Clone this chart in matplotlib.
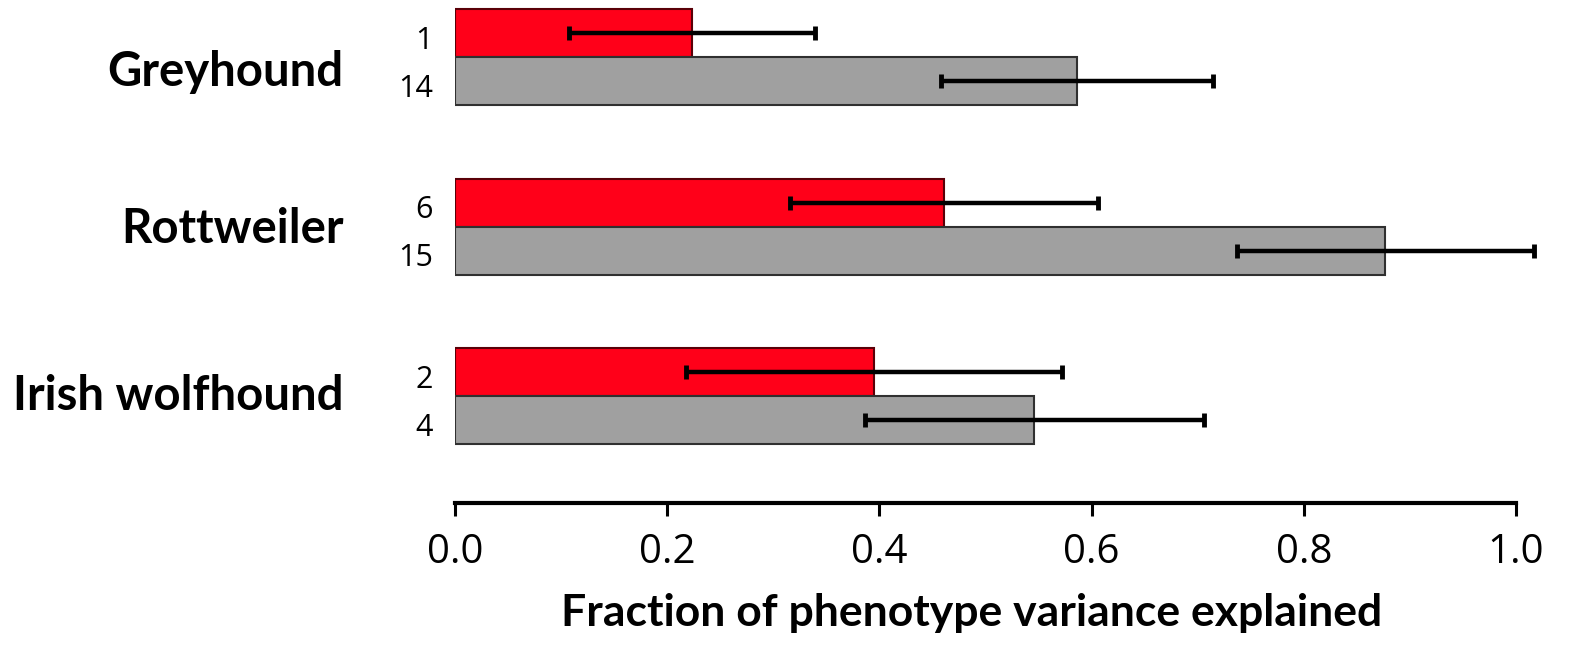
import matplotlib
matplotlib.use('Agg')
import matplotlib.pyplot as plt
import matplotlib.transforms as mtransforms
import numpy as np

plt.rcParams['font.family'] = ['Open Sans', 'DejaVu Sans']

# 数据
breeds = ['Greyhound', 'Rottweiler', 'Irish wolfhound']
red_vals = [0.223, 0.461, 0.395]
red_err = [0.116, 0.145, 0.177]
grey_vals = [0.586, 0.877, 0.546]
grey_err = [0.128, 0.140, 0.160]
red_n = ['1', '6', '2']
grey_n = ['14', '15', '4']
xticks = [0.0, 0.2, 0.4, 0.6, 0.8, 1.0]

fig = plt.figure(figsize=(15.88, 6.6), dpi=100)
ax = fig.add_axes([455 / 1588, 1 - 503 / 660, 1061 / 1588, 503 / 660])

y = np.arange(len(breeds))
h = 0.283
red_y = y - h / 2
grey_y = y + h / 2

ax.barh(red_y, red_vals, height=h, color='#FF0019', edgecolor='#5a0008', linewidth=1.5)
ax.barh(grey_y, grey_vals, height=h, color='#A0A0A0', edgecolor='#303030', linewidth=1.5)

err_kw = dict(fmt='none', ecolor='black', elinewidth=3.2, capsize=5, capthick=3.5, clip_on=False)
ax.errorbar(red_vals, red_y, xerr=red_err, **err_kw)
ax.errorbar(grey_vals, grey_y, xerr=grey_err, **err_kw)

ax.set_xlim(0, 1.0)
ax.set_ylim(2.628, -0.336)

# y 轴：数字标签
ax.set_yticks(list(red_y) + list(grey_y))
ax.set_yticklabels(red_n + grey_n, fontsize=22)
ax.tick_params(axis='y', length=0, pad=16)
shift = mtransforms.ScaledTranslation(0, -4 / 100, fig.dpi_scale_trans)
for lab in ax.get_yticklabels():
    lab.set_transform(lab.get_transform() + shift)

# 品种名称（略微错开）
name_offsets = [0.09, 0.012, 0.0]
for yi, off, name in zip(y, name_offsets, breeds):
    ax.text(-0.105, yi + off, name, transform=ax.get_yaxis_transform(), ha='right', va='center',
            fontsize=34, fontweight='bold', family=['Lato', 'DejaVu Sans'])

ax.set_xticks(xticks)
ax.set_xticklabels([f'{t:.1f}' for t in xticks], fontsize=29)
ax.tick_params(axis='x', length=9, width=2.2, pad=12, direction='out')

for s in ['top', 'right', 'left']:
    ax.spines[s].set_visible(False)
ax.spines['bottom'].set_linewidth(3)

fig.text(972 / 1588, 1 - 613 / 660, 'Fraction of phenotype variance explained', ha='center', va='center',
         fontsize=32, fontweight='bold', family=['Lato', 'DejaVu Sans'])

plt.savefig('out.png', dpi=100)
plt.close()
